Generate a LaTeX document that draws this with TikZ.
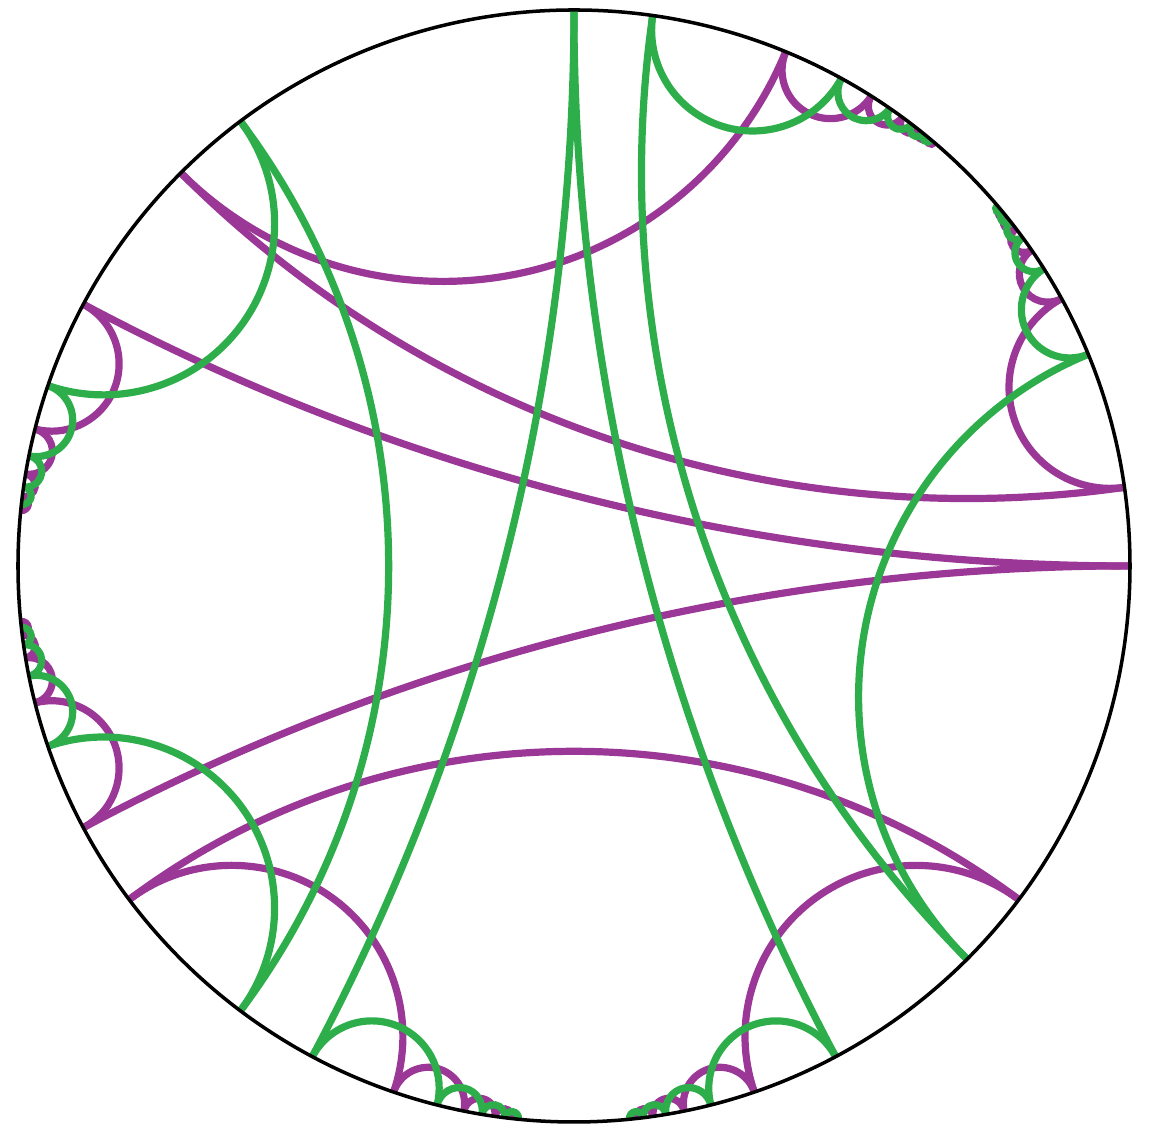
\documentclass[tikz,border=0pt]{standalone}
\usepackage{xcolor}
\usepackage{tikz}
\usetikzlibrary{calc}
\definecolor{geopurple}{RGB}{155,55,150}
\definecolor{geogreen}{RGB}{45,174,75}

\newcommand{\diskR}{5.56}
\newcommand{\geo}[3]{%
  \pgfmathsetmacro\gd{mod(#3-(#2)+720,360)}%
  \pgfmathsetmacro\ga{\gd>180 ? #3 : #2}%
  \pgfmathsetmacro\gd{\gd>180 ? 360-\gd : \gd}%
  \pgfmathsetmacro\gh{\gd/2}%
  \pgfmathsetmacro\gm{\ga+\gh}%
  \draw[#1] (\ga:\diskR) arc[start angle=\gm+270-\gh, end angle=\gm+90+\gh,
      radius={\diskR*tan(\gh)}];%
}
\newcommand{\cuspgeo}[4]{%
  \pgfmathsetmacro\pa{#2-2*atan2(1,#3)}%
  \pgfmathsetmacro\pb{#2-2*atan2(1,#4)}%
  \geo{#1}{\pa}{\pb}%
}

\begin{document}
\begin{tikzpicture}[
    purp/.style={geopurple, line width=2.05pt},
    grn/.style={geogreen, line width=2.05pt},
    rim/.style={black, line width=1pt}
]
\useasboundingbox (-5.74,-5.61) rectangle (5.83,5.66);
\coordinate (O) at (0,0);

% purple
\foreach \k in {0,4,...,16} {
  \cuspgeo{purp}{180}{\k}{\k+4}
  \cuspgeo{purp}{180}{-\k}{-\k-4}
}
\cuspgeo{purp}{270}{-2}{2}
\foreach \k in {2,6,...,14} {
  \cuspgeo{purp}{270}{\k}{\k+4}
  \cuspgeo{purp}{270}{-\k}{-\k-4}
}
\cuspgeo{purp}{45}{-1}{3}
\foreach \k in {3,7,...,19} {
  \cuspgeo{purp}{45}{\k}{\k+4}
}
\foreach \k in {1,5,...,21} {
  \cuspgeo{purp}{45}{-\k}{-\k-4}
}

% green
\cuspgeo{grn}{180}{-2}{2}
\foreach \k in {2,6,...,14} {
  \cuspgeo{grn}{180}{\k}{\k+4}
  \cuspgeo{grn}{180}{-\k}{-\k-4}
}
\foreach \k in {0,4,...,16} {
  \cuspgeo{grn}{270}{\k}{\k+4}
  \cuspgeo{grn}{270}{-\k}{-\k-4}
}
\cuspgeo{grn}{45}{-3}{1}
\foreach \k in {1,5,...,21} {
  \cuspgeo{grn}{45}{\k}{\k+4}
}
\foreach \k in {3,7,...,19} {
  \cuspgeo{grn}{45}{-\k}{-\k-4}
}

\draw[rim] (O) circle (\diskR);
\end{tikzpicture}
\end{document}
